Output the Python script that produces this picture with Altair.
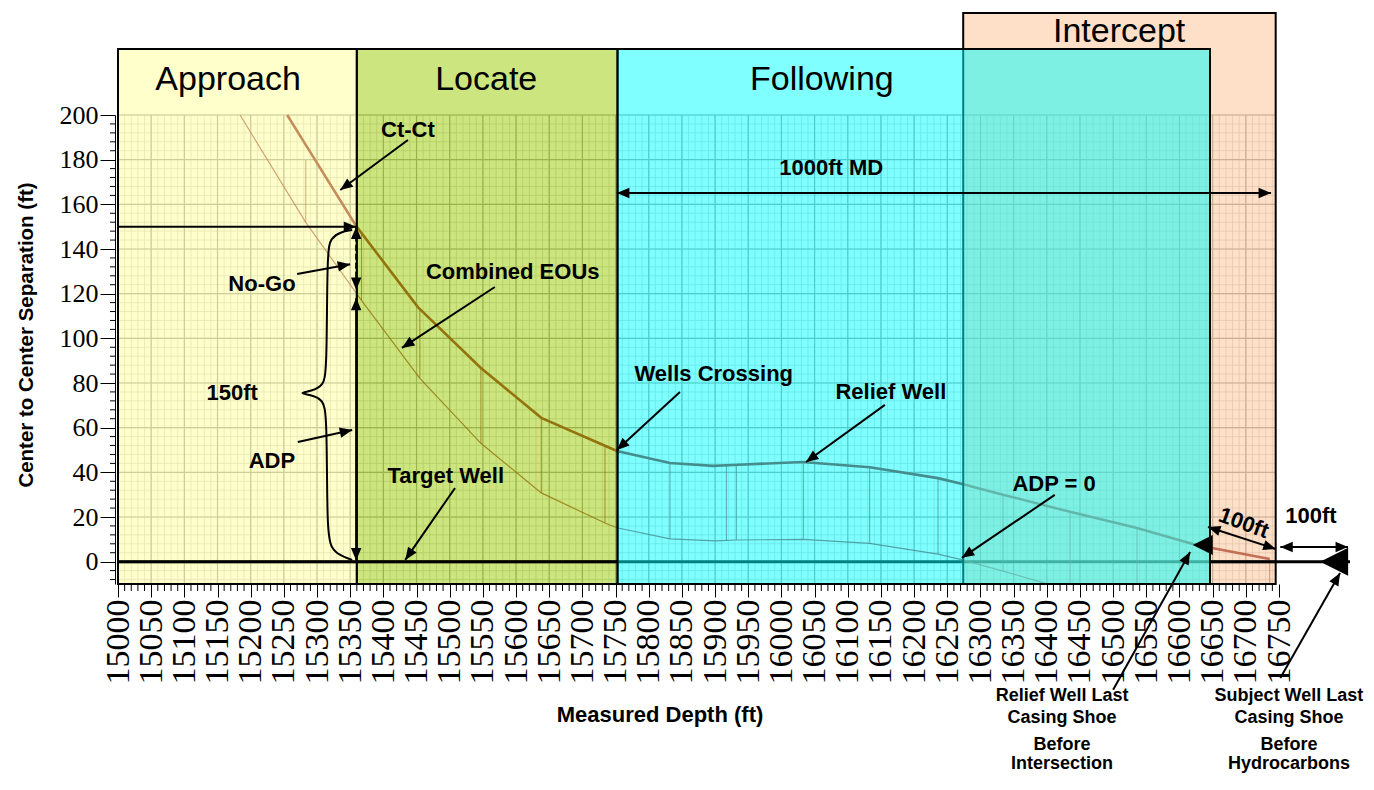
import altair as alt
import pandas as pd
import numpy as np

# ---------------- scales / layout ----------------
X_MIN, X_MAX = 15000, 16750
Y_MIN, Y_MAX = -10, 200
W, H = 1161, 469
SX = W / (X_MAX - X_MIN)   # px per ft (MD)
SY = H / (Y_MAX - Y_MIN)   # px per ft (separation)

x_tick_values = list(range(15000, 16751, 50))
y_tick_values = list(range(0, 201, 20))

# ---------------- data ----------------
# Ct-Ct (centre to centre) curve
ctct_md = [15255, 15283, 15359, 15452, 15547, 15638, 15734, 15752, 15832, 15897, 15927,
           16032, 16133, 16236, 16274, 16334, 16435, 16536, 16620, 16649, 16736]
ctct_sep = [200, 186.6, 150.3, 114, 86.7, 64.4, 51.9, 49.6, 44.2, 42.9, 43.3,
            44.6, 42.3, 37.4, 34.7, 30.0, 22.3, 15.1, 7.9, 6.1, 1.2]

# lower bound of combined EOUs
eou_md = [15184, 15283, 15367, 15455, 15547, 15638, 15734, 15752, 15832, 15900, 15932,
          16033, 16133, 16236, 16273, 16334, 16397]
eou_sep = [200, 151.9, 117, 82.1, 53, 30.8, 17.3, 15.2, 10.2, 9.3, 9.7,
           10, 8.2, 3.4, 0.8, -4.2, -9.6]

# EOU drop lines (md, top, bottom)
drop_md = [15283, 15367, 15455, 15547, 15638, 15734, 15832, 15917, 15932, 16033, 16133,
           16236, 16334, 16435, 16536, 16736]
drop_top = [179.8, 147, 113, 86.7, 64.4, 51.9, 44.2, 43.1, 43.4, 44.6, 42.3,
            37.4, 30.0, 22.3, 15.1, 1.2]
drop_bot = [151.9, 117, 82.1, 53, 30.8, 17.3, 10.2, 9.4, 9.7, 10, 8.2,
            3.4, -4.2, -10, -10, -10]

# phases (drawing order: Intercept below Following)
phase_name = ["Approach", "Locate", "Intercept", "Following"]
phase_start = [15000, 15360, 16274, 15753]
phase_end = [15360, 15753, 16745, 16646]
phase_top = [229.6, 229.6, 245.7, 229.6]
phase_color = ["#FFFF99", "#99CC00", "#FBC190", "#00FFFF"]
phase_label_x = [15166, 15555, 16509, 16061]
phase_label_y = [215.7, 215.7, 237.2, 215.7]

# annotation texts (bold)
note_text = ["Ct-Ct", "1000ft MD", "No-Go", "Combined EOUs", "150ft", "Wells Crossing",
             "Relief Well", "ADP", "Target Well", "ADP = 0", "100ft"]
note_x = [15437, 16075, 15217, 15595, 15172, 15898, 16165, 15232, 15494, 16411, 16798]
note_y = [193.3, 176.3, 124.3, 129.7, 75.5, 84.0, 76.0, 45.1, 38.4, 34.8, 20.5]

bottom_text = ["Relief Well  Last", "Casing Shoe", "Before", "Intersection",
               "Subject Well Last", "Casing Shoe", "Before", "Hydrocarbons"]
bottom_x = [16423] * 4 + [16765] * 4
bottom_y = [-60.1, -70.0, -82.1, -90.6] * 2

# arrows: from (x1, y1) to tip (x2, y2); double = head at both ends
arr_x1 = [15437, 15000, 15752, 15270, 15568, 15271, 15508, 15847, 16156, 16412, 16643, 16752, 16500, 16752]
arr_y1 = [188.8, 150, 165.1, 128.8, 123.0, 53.6, 33.0, 76.0, 70.2, 29.9, 15.5, 6.6, -57.4, -52.1]
arr_x2 = [15335, 15359, 16738, 15350, 15428, 15353, 15433, 15752, 16037, 16272, 16745, 16854, 16616, 16842]
arr_y2 = [166.4, 150, 165.1, 133.2, 95.7, 59.0, 0.8, 50.0, 44.6, 1.7, 5.7, 6.6, 4.3, -5.1]
arr_double = [False, False, True, False, False, False, False, False, False, False, True, True, False, False]

# vertical No-Go (dashed) and ADP arrows at the start of Locate
nogo_x, nogo_top, nogo_bot = 15359, 150, 121.7
adp_x, adp_top, adp_bot = 15359, 118.1, 0.5

# 150ft brace
brace_x = [15353, 15335, 15321, 15315, 15315, 15309, 15292, 15271, 15292, 15309, 15315, 15315, 15321, 15335, 15353]
brace_y = [148.5, 147.6, 144.9, 139.5, 84.9, 78.7, 76.4, 75.5, 74.6, 72.4, 66.1, 13.3, 6.1, 2.6, 0.8]

# casing shoes (triangle tips)
shoe_x = [16620, 16812]
shoe_y = [7.5, 0]
shoe_size = [1600, 3136]

# zero line segments drawn on top
zero_top_x1 = [15000, 16646]
zero_top_x2 = [15753, 16857]

# ---------------- helpers ----------------
XS = alt.Scale(domain=[X_MIN, X_MAX], nice=False, zero=False)
YS = alt.Scale(domain=[Y_MIN, Y_MAX], nice=False, zero=False)
x_axis = alt.Axis(values=x_tick_values, labelAngle=270, labelFont="Liberation Serif",
                  labelFontSize=34, labelColor="black", tickColor="black", tickSize=13,
                  tickWidth=1, domain=False, grid=False, title=None, labelPadding=2,
                  labelFlush=False, labelOverlap=False, format="d")
y_axis = alt.Axis(values=y_tick_values, labelFont="Liberation Serif", labelFontSize=26,
                  labelColor="black", tickColor="black", tickSize=15, tickWidth=1,
                  domain=True, domainColor="black", domainWidth=1, grid=False, title=None,
                  labelPadding=2, offset=3, format="d")


def X(f="x"):
    return alt.X(f"{f}:Q", scale=XS, axis=x_axis)


def Y(f="y"):
    return alt.Y(f"{f}:Q", scale=YS, axis=y_axis)


def seg_df(x1, y1, x2, y2):
    return pd.DataFrame({"x": x1, "y": y1, "x2": x2, "y2": y2})


def rules(df, **kw):
    return alt.Chart(df).mark_rule(**kw).encode(x=X(), y=Y(), x2="x2:Q", y2="y2:Q")


def head_angle(xf, yf, xt, yt):
    dx = (np.asarray(xt) - np.asarray(xf)) * SX
    dy = -(np.asarray(yt) - np.asarray(yf)) * SY
    return (np.degrees(np.arctan2(dx, -dy)) + 360) % 360


ARROW = "M0,0 L-0.42,1 L0.42,1 Z"
TRI_LEFT = "M0,0 L1,-0.5 L1,0.5 Z"

layers = []

# ---------------- grid ----------------
gx_minor = [v for v in range(15000, 16746, 10)]
gx_major = [v for v in range(15000, 16746, 50)]
gy_minor = [v for v in range(-8, 201, 4)]
gy_major = [v for v in range(0, 201, 20)]
layers.append(rules(seg_df(gx_minor, [Y_MIN] * len(gx_minor), gx_minor, [Y_MAX] * len(gx_minor)),
                    color="#cdcdcd", strokeWidth=0.8))
layers.append(rules(seg_df([X_MIN] * len(gy_minor), gy_minor, [16745] * len(gy_minor), gy_minor),
                    color="#cdcdcd", strokeWidth=0.8))
layers.append(rules(seg_df(gx_major, [Y_MIN] * len(gx_major), gx_major, [Y_MAX] * len(gx_major)),
                    color="#9a9a9a", strokeWidth=1.2))
layers.append(rules(seg_df([X_MIN] * len(gy_major), gy_major, [16745] * len(gy_major), gy_major),
                    color="#9a9a9a", strokeWidth=1.2))

# zero line (target well) underneath
layers.append(rules(seg_df([15000], [0], [16745], [0]), color="black", strokeWidth=3))

# ---------------- curves ----------------
LINE_COLOR = "#8B1A1A"
layers.append(rules(seg_df(drop_md, drop_top, drop_md, drop_bot), color=LINE_COLOR,
                    strokeWidth=1, opacity=0.75))
eou_df = pd.DataFrame({"x": eou_md, "y": eou_sep, "i": range(len(eou_md))})
layers.append(alt.Chart(eou_df).mark_line(color=LINE_COLOR, strokeWidth=1.2, opacity=0.8)
              .encode(x=X(), y=Y(), order="i:Q"))
ct_df = pd.DataFrame({"x": ctct_md, "y": ctct_sep, "i": range(len(ctct_md))})
layers.append(alt.Chart(ct_df).mark_line(color=LINE_COLOR, strokeWidth=2.6)
              .encode(x=X(), y=Y(), order="i:Q"))

# ---------------- phase boxes ----------------
ph_df = pd.DataFrame({"x": phase_start, "x2": phase_end, "y": [Y_MIN] * 4, "y2": phase_top,
                      "color": phase_color, "name": phase_name})
layers.append(alt.Chart(ph_df).mark_rect(fillOpacity=0.5, stroke="black", strokeWidth=2)
              .encode(x=X(), x2="x2:Q", y=Y(), y2="y2:Q",
                      fill=alt.Fill("color:N", scale=None)))

# zero line segments on top
layers.append(rules(seg_df(zero_top_x1, [0, 0], zero_top_x2, [0, 0]), color="black", strokeWidth=3))

# ---------------- arrows ----------------
layers.append(rules(seg_df(arr_x1, arr_y1, arr_x2, arr_y2), color="black", strokeWidth=2))
hx = list(arr_x2)
hy = list(arr_y2)
ha = list(head_angle(arr_x1, arr_y1, arr_x2, arr_y2))
for i, d in enumerate(arr_double):
    if d:
        hx.append(arr_x1[i])
        hy.append(arr_y1[i])
        ha.append(float(head_angle(arr_x2[i], arr_y2[i], arr_x1[i], arr_y1[i])))
# vertical No-Go and ADP arrows
layers.append(rules(seg_df([nogo_x], [nogo_top], [nogo_x], [nogo_bot]), color="black",
                    strokeWidth=2, strokeDash=[6, 3]))
layers.append(rules(seg_df([adp_x], [adp_top], [adp_x], [adp_bot]), color="black", strokeWidth=2))
hx += [nogo_x, nogo_x, adp_x, adp_x]
hy += [nogo_top, nogo_bot, adp_top, adp_bot]
ha += [0, 180, 0, 180]
head_df = pd.DataFrame({"x": hx, "y": hy, "a": ha})
layers.append(alt.Chart(head_df).mark_point(shape=ARROW, filled=True, size=620, color="black",
                                            opacity=1, strokeWidth=0)
              .encode(x=X(), y=Y(), angle=alt.Angle("a:Q", scale=None)))

# brace
br_df = pd.DataFrame({"x": brace_x, "y": brace_y, "i": range(len(brace_x))})
layers.append(alt.Chart(br_df).mark_line(color="black", strokeWidth=2, interpolate="basis")
              .encode(x=X(), y=Y(), order="i:Q"))

# casing shoes
shoe_df = pd.DataFrame({"x": shoe_x, "y": shoe_y, "s": shoe_size})
layers.append(alt.Chart(shoe_df).mark_point(shape=TRI_LEFT, filled=True, color="black",
                                            opacity=1, strokeWidth=0)
              .encode(x=X(), y=Y(), size=alt.Size("s:Q", scale=None)))

# ---------------- minor axis ticks ----------------
xm = [v for v in range(15000, 16746, 10) if v % 50 != 0]
layers.append(rules(seg_df(xm, [Y_MIN] * len(xm), xm, [Y_MIN - 7 / SY] * len(xm)),
                    color="black", strokeWidth=1))
ym = [v for v in range(-8, 201, 4) if v % 20 != 0]
layers.append(rules(seg_df([X_MIN - 8 / SX] * len(ym), ym, [X_MIN - 3 / SX] * len(ym), ym),
                    color="black", strokeWidth=1))

# ---------------- texts ----------------
hd_df = pd.DataFrame({"x": phase_label_x, "y": phase_label_y, "t": phase_name})
layers.append(alt.Chart(hd_df).mark_text(font="Liberation Sans", fontSize=34, color="black",
                                         align="center", baseline="middle")
              .encode(x=X(), y=Y(), text="t:N"))

nt_df = pd.DataFrame({"x": note_x, "y": note_y, "t": note_text})
layers.append(alt.Chart(nt_df).mark_text(font="Liberation Sans", fontWeight="bold", fontSize=22,
                                         color="black", align="center", baseline="middle")
              .encode(x=X(), y=Y(), text="t:N"))

rot_df = pd.DataFrame({"x": [16697], "y": [17.3], "t": ["100ft"]})
layers.append(alt.Chart(rot_df).mark_text(font="Liberation Sans", fontWeight="bold", fontSize=22,
                                          color="black", align="center", baseline="middle", angle=20)
              .encode(x=X(), y=Y(), text="t:N"))

bt_df = pd.DataFrame({"x": bottom_x, "y": bottom_y, "t": bottom_text})
layers.append(alt.Chart(bt_df).mark_text(font="Liberation Sans", fontWeight="bold", fontSize=18,
                                         color="black", align="center", baseline="middle")
              .encode(x=X(), y=Y(), text="t:N"))

xt_df = pd.DataFrame({"x": [15817], "y": [-68.6], "t": ["Measured Depth (ft)"]})
layers.append(alt.Chart(xt_df).mark_text(font="Liberation Sans", fontWeight="bold", fontSize=22,
                                         color="black", align="center", baseline="middle")
              .encode(x=X(), y=Y(), text="t:N"))

yt_df = pd.DataFrame({"x": [14863], "y": [101.5], "t": ["Center to Center Separation (ft)"]})
layers.append(alt.Chart(yt_df).mark_text(font="Liberation Sans", fontWeight="bold", fontSize=20.5,
                                         color="black", align="center", baseline="middle", angle=270)
              .encode(x=X(), y=Y(), text="t:N"))

chart = alt.layer(*layers).properties(
    width=W, height=H,
    autosize=alt.AutoSizeParams(type="none"),
    padding={"left": 110, "top": 107, "right": 87, "bottom": 194},
).configure_view(stroke=None)

chart.save("out.html", embed_options={"renderer": "svg", "actions": False})
